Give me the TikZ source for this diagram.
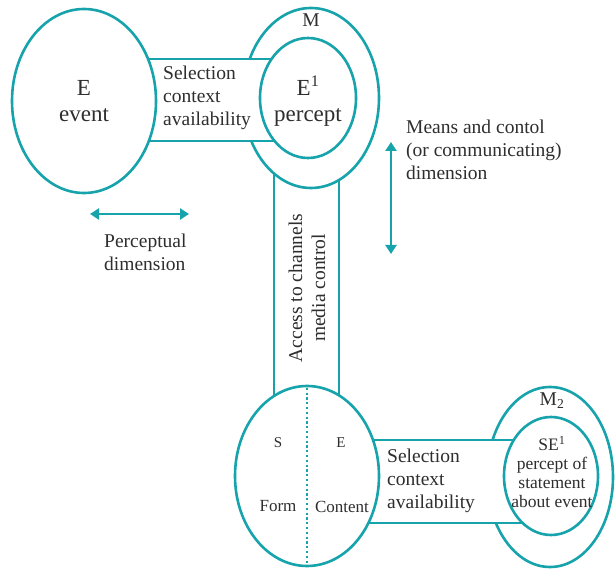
\documentclass[tikz,border=0pt]{standalone}
\usepackage{fontspec}
\setmainfont{Liberation Serif}
\usetikzlibrary{shapes.geometric,arrows.meta}
\definecolor{teal1}{HTML}{17A3AB}
\definecolor{txt}{HTML}{2E2E2E}
\tikzset{
  line/.style={draw=teal1,line width=2.6pt},
  ell/.style={ellipse,line,fill=white,inner sep=0pt,text=txt,align=center},
  bigtxt/.style={text=txt,font=\fontsize{19.5}{23}\selectfont,inner sep=0pt},
  smalltxt/.style={text=txt,font=\fontsize{17}{19}\selectfont,inner sep=0pt},
  dblarrow/.style={line,{Triangle[width=11pt,length=9pt]}-{Triangle[width=11pt,length=9pt]}}
}
\begin{document}
\begin{tikzpicture}[x=1pt,y=-1pt]
\useasboundingbox (0,0) rectangle (616,569);
% vertical band
\coordinate (vbtl) at (274,165);
\coordinate (vbbl) at (274,405);
\coordinate (vbtr) at (339,165);
\coordinate (vbbr) at (339,405);
\draw[line] (vbtl) -- (vbbl);
\draw[line] (vbtr) -- (vbbr);
% M outer ellipse
\node[ell,minimum width=136pt,minimum height=180pt] (M) at (311,98) {};
\node[bigtxt] (Mlab) at (311,20) {M};
% upper band
\coordinate (ubtl) at (145,59);
\coordinate (ubtr) at (278,59);
\coordinate (ubbl) at (145,141);
\coordinate (ubbr) at (278,141);
\fill[white] (ubtl) rectangle (ubbr);
\draw[line] (ubtl) -- (ubtr);
\draw[line] (ubbl) -- (ubbr);
% E ellipse and E1 ellipse
\node[ell,minimum width=144pt,minimum height=184pt,font=\fontsize{23}{26}\selectfont] (E) at (84,101) {E\\event};
\node[ell,minimum width=96pt,minimum height=120pt] (E1) at (308,98) {};
\node[text=txt,inner sep=0pt,align=center,font=\fontsize{23}{26}\selectfont] (E1lab) at (308,101) {E\textsuperscript{1}\\percept};
\node[bigtxt,anchor=west,align=left] (sel1) at (163,98) {Selection\\context\\availability};
% M2 outer ellipse
\node[ell,minimum width=126pt,minimum height=180pt] (M2) at (550,477) {};
\node[bigtxt] (M2lab) at (552,401) {M\textsubscript{2}};
% lower band
\coordinate (lbtl) at (365,440);
\coordinate (lbtr) at (525,440);
\coordinate (lbbl) at (365,523);
\coordinate (lbbr) at (525,523);
\fill[white] (lbtl) rectangle (lbbr);
\draw[line] (lbtl) -- (lbtr);
\draw[line] (lbbl) -- (lbbr);
% lower SF ellipse
\node[ell,minimum width=144pt,minimum height=180pt] (SF) at (307,476) {};
\draw[draw=teal1,line width=2.2pt,dash pattern=on 2.2pt off 2.6pt] ([yshift=-3pt]SF.north) -- ([yshift=3pt]SF.south);
\node[smalltxt,font=\fontsize{15}{18}\selectfont] (S) at (278,443) {S};
\node[smalltxt,font=\fontsize{15}{18}\selectfont] (Elow) at (341,443) {E};
\node[smalltxt] (Form) at (278,506) {Form};
\node[smalltxt] (Content) at (342,507) {Content};
% SE1 inner
\node[ell,minimum width=94pt,minimum height=118pt] (SE1) at (551,476) {};
\node[text=txt,inner sep=0pt,align=center,font=\fontsize{17.5}{19}\selectfont] (SE1lab) at (552,472) {SE\textsuperscript{1}\\percept of\\statement\\about event};
\node[bigtxt,anchor=west,align=left] (sel2) at (387,481) {Selection\\context\\availability};
% rotated text
\node[bigtxt,rotate=90,align=center] (access) at (307,288) {Access to channels\\media control};
% arrows
\coordinate (pa1) at (90,214);
\coordinate (pa2) at (189,214);
\draw[dblarrow] (pa1) -- (pa2);
\node[bigtxt,anchor=west,align=left] (perc) at (104,252) {Perceptual\\dimension};
\coordinate (ma1) at (391,142);
\coordinate (ma2) at (391,254);
\draw[dblarrow] (ma1) -- (ma2);
\node[bigtxt,anchor=west,align=left] (means) at (406,150) {Means and contol\\(or communicating)\\dimension};
\end{tikzpicture}
\end{document}
